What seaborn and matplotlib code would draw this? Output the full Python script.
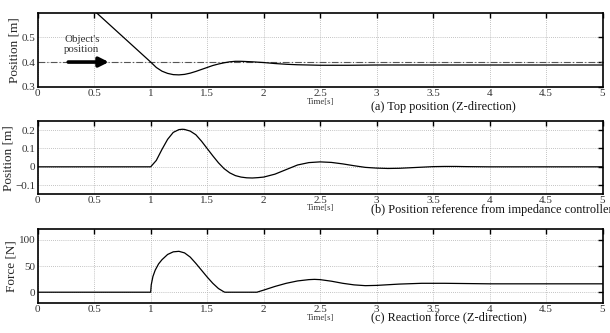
import numpy as np
import pandas as pd
import matplotlib
matplotlib.use("Agg")
import matplotlib.pyplot as plt
import seaborn as sns

# ---- data ----
t_top = [0.52, 1.00, 1.05, 1.10, 1.15, 1.20, 1.25, 1.30, 1.35, 1.40, 1.45, 1.50,
         1.55, 1.60, 1.65, 1.70, 1.75, 1.80, 1.85, 1.90, 2.00, 2.10, 2.20, 2.30,
         2.40, 2.50, 2.75, 3.00, 3.50, 4.00, 5.00]
pos_top = [0.600, 0.400, 0.378, 0.363, 0.354, 0.349, 0.348, 0.350, 0.355, 0.362,
           0.370, 0.378, 0.386, 0.392, 0.397, 0.401, 0.403, 0.403, 0.402, 0.401,
           0.398, 0.394, 0.391, 0.389, 0.388, 0.387, 0.387, 0.388, 0.388, 0.388,
           0.388]
object_pos = 0.4

t_ref = [0.00, 1.00, 1.05, 1.10, 1.15, 1.20, 1.25, 1.28, 1.30, 1.35, 1.40, 1.45,
         1.50, 1.55, 1.60, 1.65, 1.70, 1.75, 1.80, 1.85, 1.90, 1.95, 2.00, 2.10,
         2.20, 2.30, 2.40, 2.50, 2.60, 2.70, 2.80, 2.90, 3.00, 3.10, 3.20, 3.30,
         3.40, 3.50, 3.60, 3.70, 3.80, 4.00, 5.00]
pos_ref = [0.000, 0.000, 0.035, 0.095, 0.150, 0.188, 0.203, 0.205, 0.204, 0.195,
           0.175, 0.140, 0.100, 0.060, 0.022, -0.010, -0.033, -0.048, -0.056,
           -0.060, -0.061, -0.059, -0.056, -0.040, -0.015, 0.010, 0.023, 0.027,
           0.024, 0.016, 0.006, -0.003, -0.007, -0.009, -0.008, -0.005, -0.002,
           0.001, 0.002, 0.002, 0.001, 0.000, 0.000]

t_force = [0.00, 1.00, 1.005, 1.02, 1.04, 1.07, 1.10, 1.15, 1.20, 1.25, 1.30,
           1.35, 1.40, 1.45, 1.50, 1.55, 1.60, 1.65, 1.66, 1.94, 2.00, 2.10, 2.20,
           2.30, 2.40, 2.45, 2.50, 2.60, 2.70, 2.80, 2.90, 3.00, 3.20, 3.40, 3.60,
           3.80, 4.00, 5.00]
force = [0.0, 0.0, 14.0, 30.0, 42.0, 54.0, 62.0, 72.0, 77.0, 78.0, 75.0, 67.0,
         55.0, 42.0, 29.0, 17.0, 7.0, 0.5, 0.0, 0.0, 4.0, 11.0, 17.0, 21.5, 24.0,
         24.5, 24.0, 21.0, 17.0, 14.0, 12.5, 13.0, 15.5, 17.0, 17.0, 16.5, 16.0,
         16.0]

x_ticks = [0, 0.5, 1, 1.5, 2, 2.5, 3, 3.5, 4, 4.5, 5]
x_ticklabels = ["0", "0.5", "1", "1.5", "2", "2.5", "3", "3.5", "4", "4.5", "5"]

captions = ["(a) Top position (Z-direction)",
            "(b) Position reference from impedance controller",
            "(c) Reaction force (Z-direction)"]
ylabels = ["Position [m]", "Position [m]", "Force [N]"]
ylims = [(0.3, 0.6), (-0.15, 0.25), (-20, 120)]
yticks = [[0.3, 0.4, 0.5], [-0.1, 0, 0.1, 0.2], [0, 50, 100]]
yticklabels = [["0.3", "0.4", "0.5"], ["\u22120.1", "0", "0.1", "0.2"],
               ["0", "50", "100"]]

sns.set_theme(style="white")
plt.rcParams["font.family"] = ["Liberation Serif", "DejaVu Serif"]

fig = plt.figure(figsize=(6.1, 3.33), dpi=100)
boxes = [(0.0618, 0.7396, 0.926, 0.2222),
         (0.0618, 0.4165, 0.926, 0.2201),
         (0.0618, 0.0910, 0.926, 0.2204)]
axes = [fig.add_axes(b) for b in boxes]

dfs = [pd.DataFrame({"t": t_top, "v": pos_top}),
       pd.DataFrame({"t": t_ref, "v": pos_ref}),
       pd.DataFrame({"t": t_force, "v": force})]

for i, ax in enumerate(axes):
    sns.lineplot(data=dfs[i], x="t", y="v", ax=ax, color="black", lw=0.9,
                 estimator=None, sort=False, zorder=3)
    ax.set_xlim(0, 5)
    ax.set_ylim(*ylims[i])
    ax.set_xticks(x_ticks)
    ax.set_xticklabels(x_ticklabels)
    ax.set_yticks(yticks[i])
    ax.set_yticklabels(yticklabels[i])
    ax.set_xlabel("")
    ax.set_ylabel(ylabels[i], fontsize=9.5, labelpad=1)
    ax.grid(True, linestyle=(0, (1, 1.5)), color="#b0b0b0", lw=0.6)
    ax.tick_params(direction="in", length=3.5, width=1.0, labelsize=8,
                   top=True, right=True, pad=1.5, colors="black",
                   labelcolor="#333333")
    for s in ax.spines.values():
        s.set_visible(True)
        s.set_color("black")
        s.set_linewidth(1.2)

# object position reference line and annotation in panel (a)
axes[0].axhline(object_pos, color="#555555", lw=0.8, ls=(0, (6, 2, 1, 2)), zorder=2)
axes[0].annotate("", xy=(0.63, object_pos), xytext=(0.27, object_pos),
                 arrowprops=dict(arrowstyle="-|>", lw=2.6, color="black",
                                 mutation_scale=14, shrinkA=0, shrinkB=0),
                 zorder=4)
axes[0].text(0.39, 0.471, "Object's\nposition", ha="center", va="center",
             fontsize=7.8, linespacing=1.2, color="#333333")

# time labels and captions
time_y = [0.695, 0.376, 0.045]
cap_x = [0.608, 0.609, 0.609]
cap_y = [0.680, 0.368, 0.047]
for i in range(3):
    fig.text(0.525, time_y[i], "Time[s]", fontsize=6.3, ha="center", va="center",
             color="#333333")
    fig.text(cap_x[i], cap_y[i], captions[i], fontsize=8.8, ha="left",
             va="center", color="#111111")

fig.savefig("out.png", dpi=100)
